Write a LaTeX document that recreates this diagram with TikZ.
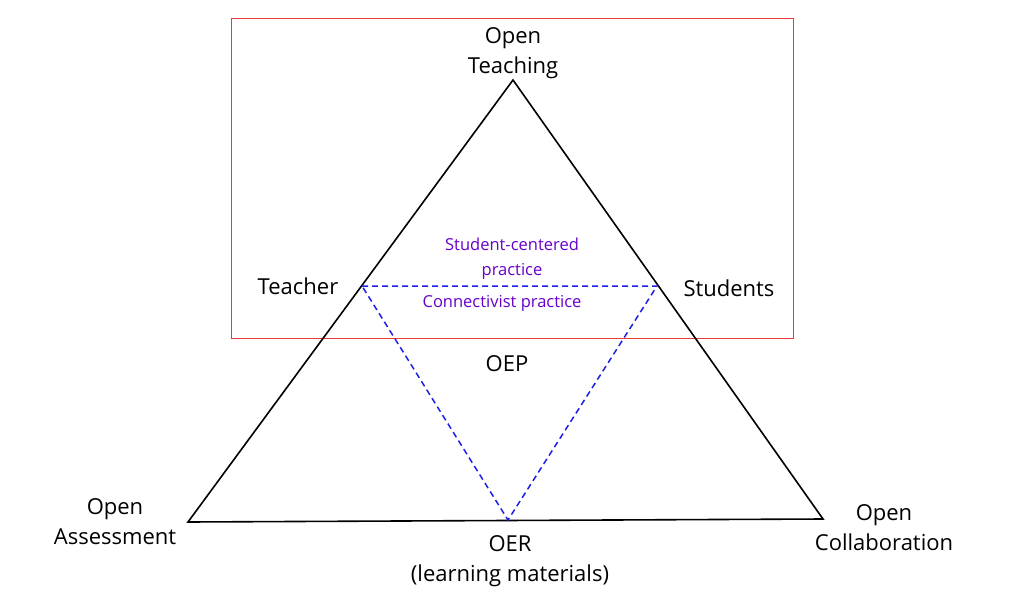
\documentclass[tikz,border=0pt]{standalone}
\usepackage{fontspec}
\setmainfont{Open Sans}
\tikzset{every picture/.style={line width=0.75pt}}
\begin{document}
\begin{tikzpicture}[x=1pt,y=1pt,yscale=-1,xscale=1,
  lbl/.style={inner sep=0.75pt,align=center,font=\fontsize{22}{30}\selectfont},
  sublbl/.style={inner sep=0.75pt,align=center,text={rgb,255:red,102;green,0;blue,204},font=\fontsize{16.5}{25}\selectfont}]
\useasboundingbox (0,0) rectangle (1024,599);

%Shape: Rectangle
\draw [color={rgb, 255:red, 230; green, 60; blue, 60 }] (231,18) rectangle (793,338) ;
%Corners
\coordinate (top) at (513,80);
\coordinate (left) at (188,522);
\coordinate (right) at (823,519);
\coordinate (dl) at (362,286);
\coordinate (dr) at (657,286);
\coordinate (db) at (508,520);
%Shape: Triangle
\draw [line width=1.6pt] (top) -- (right) -- (left) -- cycle ;
%Shape: Triangle dashed
\draw [color={rgb, 255:red, 30; green, 30; blue, 230 }, line width=1.5pt, dash pattern={on 6pt off 4pt}] (dl) -- (dr) -- (db) -- cycle ;

% Text Node
\node [lbl] (teaching) at (513,53) {Open\\Teaching};
\node [lbl] (assess) at (115,522) {Open\\Assessment};
\node [lbl] (collab) at (884,528) {Open\\Collaboration};
\node [lbl] (oer) at (510,561) {OER\\(learning materials)};
\node [lbl] (teacher) at (298,286) {Teacher};
\node [lbl] (students) at (729,288) {Students};
\node [lbl] (oep) at (507,364) {OEP};
\node [sublbl] (centered) at (512,259) {Student-centered\\practice};
\node [sublbl] (connect) at (502,303) {Connectivist practice};
\end{tikzpicture}
\end{document}
